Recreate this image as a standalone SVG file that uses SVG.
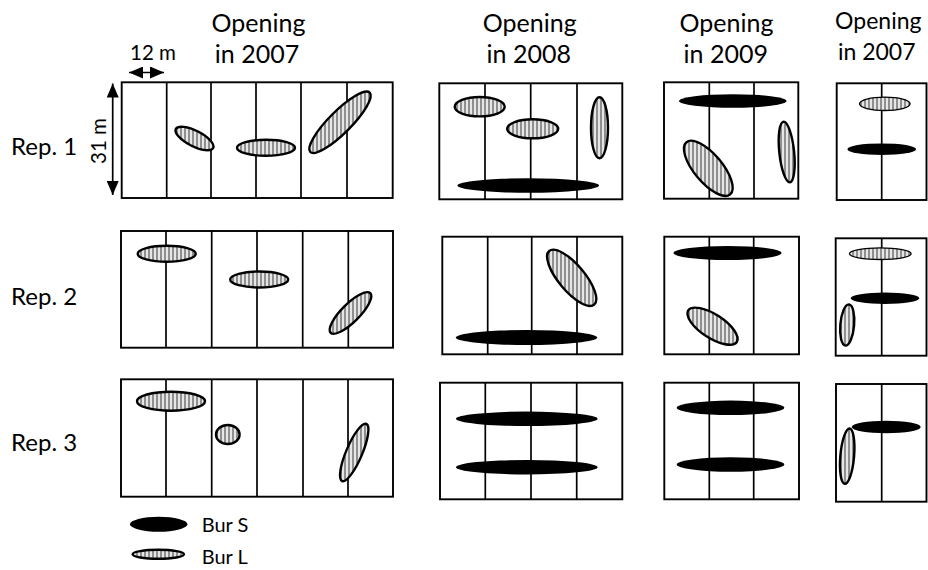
<svg xmlns="http://www.w3.org/2000/svg" width="928" height="570" viewBox="0 0 928 570">
<style>
text{font-family:Lato,"Liberation Sans",sans-serif;fill:#000}
.hdr{font-size:25px;text-anchor:middle}
.hdr4{font-size:23px;text-anchor:middle}
.rep{font-size:24px}
.dim{font-size:20.5px}
.leg{font-size:20px}
.plot rect{fill:#fff;stroke:#000;stroke-width:1.9}
.plot line{stroke:#000;stroke-width:1.7}
.L{fill:url(#hatch);stroke:#000;stroke-width:2.4}
.Lt{fill:url(#hatch);stroke:#000;stroke-width:1.3}
.S{fill:#000;stroke:none}
.arr{stroke:#000;stroke-width:1.7;fill:none;marker-start:url(#ah);marker-end:url(#ah)}
</style>
<defs>
<pattern id="hatch" patternUnits="userSpaceOnUse" width="4" height="4">
<rect width="4" height="4" fill="#e6e6e6"/>
<rect width="2" height="4" fill="#8f8f8f"/>
</pattern>
<marker id="ah" markerUnits="userSpaceOnUse" markerWidth="14" markerHeight="12" refX="14" refY="6" orient="auto-start-reverse">
<path d="M0,0 L14,6 L0,12 Z" fill="#000"/>
</marker>
</defs>
<rect width="928" height="570" fill="#fff"/>

<!-- headers -->
<g id="headers">
<text class="hdr" x="258.5" y="32">Opening</text>
<text class="hdr" x="257" y="63">in 2007</text>
<text class="hdr" x="529.7" y="32">Opening</text>
<text class="hdr" x="528.8" y="63">in 2008</text>
<text class="hdr" x="726.5" y="32">Opening</text>
<text class="hdr" x="725.8" y="63">in 2009</text>
<text class="hdr4" x="878.3" y="29">Opening</text>
<text class="hdr4" x="876.7" y="60">in 2007</text>
</g>
<g id="rep-labels">
<text class="rep" x="11" y="155">Rep. 1</text>
<text class="rep" x="11" y="305">Rep. 2</text>
<text class="rep" x="11" y="451">Rep. 3</text>
</g>

<!-- dimensions -->
<g id="connectors">
<line class="arr" x1="129" y1="72.5" x2="164" y2="72.5"/>
<line class="arr" x1="112.7" y1="83.5" x2="112.7" y2="195"/>
</g>
<text class="dim" x="130" y="60">12 m</text>
<text class="dim" transform="translate(105.5,164) rotate(-90)">31 m</text>

<!-- Group 1: 2007, six strips -->
<g id="g1r1" class="plot">
<rect x="121.7" y="82.3" width="271" height="115.7"/>
<line x1="166.7" y1="82.3" x2="166.7" y2="198"/>
<line x1="211" y1="82.3" x2="211" y2="198"/>
<line x1="256" y1="82.3" x2="256" y2="198"/>
<line x1="301" y1="82.3" x2="301" y2="198"/>
<line x1="347" y1="82.3" x2="347" y2="198"/>
<path class="L" d="M213.21,148.03 A21,8 27 0 1 175.79,128.97 A21,8 27 0 1 213.21,148.03 Z"/>
<ellipse class="L" cx="266" cy="147.8" rx="29" ry="8"/>
<path class="L" d="M369.7,92.6 A42,11 -45 0 1 310.3,152 A42,11 -45 0 1 369.7,92.6 Z"/>
</g>
<g id="g1r2" class="plot">
<rect x="121" y="231" width="272" height="116.7"/>
<line x1="166" y1="231" x2="166" y2="347.7"/>
<line x1="211.7" y1="231" x2="211.7" y2="347.7"/>
<line x1="257" y1="231" x2="257" y2="347.7"/>
<line x1="302.7" y1="231" x2="302.7" y2="347.7"/>
<line x1="348.3" y1="231" x2="348.3" y2="347.7"/>
<ellipse class="L" cx="166.7" cy="253.8" rx="29" ry="8"/>
<ellipse class="L" cx="259.2" cy="279.5" rx="29" ry="8"/>
<path class="L" d="M370.3,293.2 A28,9 -45 0 1 330.7,332.8 A28,9 -45 0 1 370.3,293.2 Z"/>
</g>
<g id="g1r3" class="plot">
<rect x="121" y="379.3" width="272" height="117.4"/>
<line x1="166" y1="379.3" x2="166" y2="496.7"/>
<line x1="211.7" y1="379.3" x2="211.7" y2="496.7"/>
<line x1="257" y1="379.3" x2="257" y2="496.7"/>
<line x1="303" y1="379.3" x2="303" y2="496.7"/>
<line x1="348" y1="379.3" x2="348" y2="496.7"/>
<ellipse class="L" cx="171" cy="401.2" rx="34" ry="9.5"/>
<ellipse class="L" cx="227.8" cy="434.5" rx="11.8" ry="9.5"/>
<path class="L" d="M366.31,423.96 A31,8 -67 0 1 342.09,481.04 A31,8 -67 0 1 366.31,423.96 Z"/>
</g>

<!-- Group 2: 2008, four strips -->
<g id="g2r1" class="plot">
<rect x="439.3" y="83.3" width="183" height="116"/>
<line x1="485" y1="83.3" x2="485" y2="199.3"/>
<line x1="530.7" y1="83.3" x2="530.7" y2="199.3"/>
<line x1="577" y1="83.3" x2="577" y2="199.3"/>
<ellipse class="L" cx="479.7" cy="106.7" rx="25" ry="9.7"/>
<ellipse class="L" cx="532.7" cy="128.8" rx="25.5" ry="9.5"/>
<ellipse class="L" cx="599.5" cy="127.7" rx="8.5" ry="30.5"/>
<ellipse class="S" cx="528.2" cy="185.5" rx="70.8" ry="7.2"/>
</g>
<g id="g2r2" class="plot">
<rect x="442.3" y="236.7" width="180" height="117.6"/>
<line x1="487.7" y1="236.7" x2="487.7" y2="354.3"/>
<line x1="531.7" y1="236.7" x2="531.7" y2="354.3"/>
<line x1="577" y1="236.7" x2="577" y2="354.3"/>
<path class="L" d="M594.2,304.61 A35,13 50 0 1 549.2,250.99 A35,13 50 0 1 594.2,304.61 Z"/>
<ellipse class="S" cx="526.5" cy="337.5" rx="70.8" ry="7.5"/>
</g>
<g id="g2r3" class="plot">
<rect x="440" y="382.7" width="182.3" height="116.6"/>
<line x1="485.3" y1="382.7" x2="485.3" y2="499.3"/>
<line x1="531" y1="382.7" x2="531" y2="499.3"/>
<line x1="576.7" y1="382.7" x2="576.7" y2="499.3"/>
<ellipse class="S" cx="526.8" cy="418.8" rx="70.8" ry="7.2"/>
<ellipse class="S" cx="526.8" cy="467.2" rx="70.8" ry="7.2"/>
</g>

<!-- Group 3: 2009, three strips -->
<g id="g3r1" class="plot">
<rect x="664" y="82.3" width="134.3" height="116.4"/>
<line x1="709.3" y1="82.3" x2="709.3" y2="198.7"/>
<line x1="754" y1="82.3" x2="754" y2="198.7"/>
<ellipse class="S" cx="732.8" cy="101" rx="53.8" ry="6.7"/>
<path class="L" d="M730.16,194.35 A34,14 50 0 1 686.44,142.25 A34,14 50 0 1 730.16,194.35 Z"/>
<path class="L" d="M789.89,182.33 A30.5,7.5 84 0 1 783.51,121.67 A30.5,7.5 84 0 1 789.89,182.33 Z"/>
</g>
<g id="g3r2" class="plot">
<rect x="664.3" y="236.7" width="134.7" height="117.6"/>
<line x1="709.3" y1="236.7" x2="709.3" y2="354.3"/>
<line x1="753.7" y1="236.7" x2="753.7" y2="354.3"/>
<ellipse class="S" cx="727.5" cy="253" rx="54" ry="7"/>
<path class="L" d="M736.82,341.99 A29,12 33 0 1 688.18,310.41 A29,12 33 0 1 736.82,341.99 Z"/>
</g>
<g id="g3r3" class="plot">
<rect x="664.3" y="382.7" width="134.7" height="116.6"/>
<line x1="709.3" y1="382.7" x2="709.3" y2="499.3"/>
<line x1="753.7" y1="382.7" x2="753.7" y2="499.3"/>
<ellipse class="S" cx="730.5" cy="407.8" rx="53.8" ry="7.2"/>
<ellipse class="S" cx="730.5" cy="464.5" rx="53.8" ry="7.2"/>
</g>

<!-- Group 4: 2007, two strips -->
<g id="g4r1" class="plot">
<rect x="836.7" y="83.3" width="89.8" height="116.7"/>
<line x1="881.7" y1="83.3" x2="881.7" y2="200"/>
<ellipse class="Lt" cx="884.8" cy="103.8" rx="25.3" ry="6.7"/>
<ellipse class="S" cx="881.7" cy="149.2" rx="34.3" ry="5.8"/>
</g>
<g id="g4r2" class="plot">
<rect x="835.7" y="238.3" width="90.8" height="117.4"/>
<line x1="881.7" y1="238.3" x2="881.7" y2="355.7"/>
<ellipse class="Lt" cx="880.3" cy="253.7" rx="30.8" ry="5.8"/>
<ellipse class="S" cx="885" cy="298.3" rx="34.3" ry="5.7"/>
<path class="L" d="M845.4,345.62 A20.7,7 95 0 1 849,304.38 A20.7,7 95 0 1 845.4,345.62 Z"/>
</g>
<g id="g4r3" class="plot">
<rect x="836" y="384" width="90.5" height="117.7"/>
<line x1="881.7" y1="384" x2="881.7" y2="501.7"/>
<ellipse class="S" cx="886.2" cy="427" rx="34.5" ry="6.3"/>
<path class="L" d="M844.78,483.89 A27.8,7 95 0 1 849.62,428.51 A27.8,7 95 0 1 844.78,483.89 Z"/>
</g>

<!-- legend -->
<g id="legend">
<ellipse class="S" cx="158.7" cy="524.2" rx="28.7" ry="7.5"/>
<text class="leg" x="201.7" y="532">Bur S</text>
<ellipse class="L" cx="158.3" cy="554.3" rx="25.7" ry="4.5"/>
<text class="leg" x="201.7" y="564">Bur L</text>
</g>
</svg>
